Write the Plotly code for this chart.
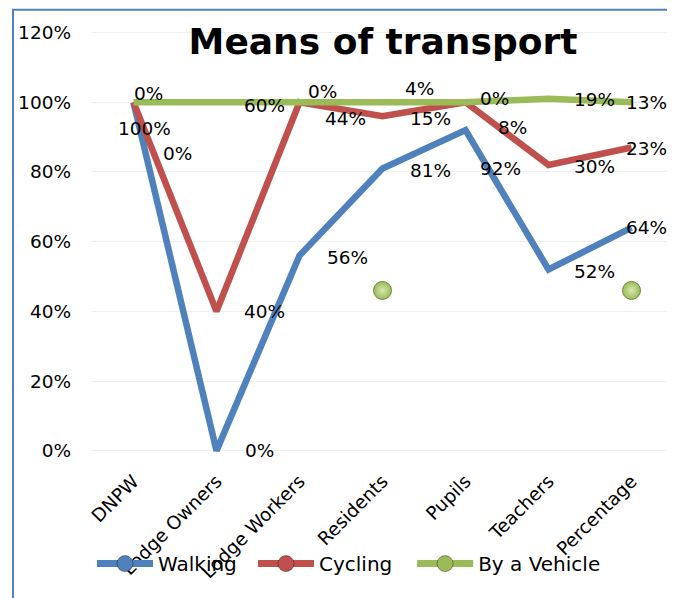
import numpy as np
import plotly.graph_objects as go

categories = ["DNPW", "Lodge Owners", "Lodge Workers", "Residents", "Pupils", "Teachers", "Percentage"]
walking = [100, 0, 56, 81, 92, 52, 64]
cycling = [0, 40, 44, 15, 8, 30, 23]
vehicle = [0, 60, 0, 4, 0, 19, 13]
# stray vehicle markers visible in the picture
vehicle_markers = [None, None, None, 46, None, None, 46]
y_ticks = [0, 20, 40, 60, 80, 100, 120]

cum_walk = np.array(walking, dtype=float)
cum_cyc = cum_walk + np.array(cycling, dtype=float)
cum_veh = cum_cyc + np.array(vehicle, dtype=float)

BLUE = "#4F81BD"
RED = "#C0504D"
GREEN = "#9BBB59"
FONT = "DejaVu Sans"
FS = 18.5

fig = go.Figure()
series = [("Walking", cum_walk, BLUE), ("Cycling", cum_cyc, RED), ("By a Vehicle", cum_veh, GREEN)]
for name, ys, col in series:
    fig.add_trace(go.Scatter(x=categories, y=ys, mode="lines", name=name,
                             line=dict(color=col, width=6.5), showlegend=False))

fig.add_trace(go.Scatter(x=categories, y=vehicle_markers, mode="markers", showlegend=False,
                         marker=dict(color=GREEN, size=18, line=dict(color="#6E8A3A", width=1),
                                     gradient=dict(type="radial", color="#D8E8B0"))))

# legend entries
for i, (name, ys, col) in enumerate(series):
    fig.add_trace(go.Scatter(x=[None], y=[None], mode="lines+markers", name=name,
                             legend="legend2" if i == 2 else "legend",
                             line=dict(color=col, width=7),
                             marker=dict(color=col, size=16, line=dict(color="rgba(0,0,0,0.35)", width=1))))

# label offsets (xshift, yshift) per point
walk_off = [(-18, -26), (26, 0), (25, -2), (25, -2), (12, -38), (23, -2), (-8, 0)]
cyc_off = [(27, -51), (25, 0), (23, -16), (25, -2), (30, -25), (23, -2), (-8, -1)]
veh_off = [(-2, 9), (25, -3), (6, 11), (20, 14), (12, 4), (23, -1), (-8, 0)]

annotations = []
for vals, ys, offs in [(walking, cum_walk, walk_off), (cycling, cum_cyc, cyc_off), (vehicle, cum_veh, veh_off)]:
    for c, v, yv, (dx, dy) in zip(categories, vals, ys, offs):
        annotations.append(dict(x=c, y=yv, text=f"{v}%", showarrow=False, xanchor="left",
                                yanchor="middle", xshift=dx, yshift=dy,
                                font=dict(family=FONT, size=FS, color="black")))

legend_common = dict(orientation="h", xanchor="left", y=-0.252, yanchor="middle", itemwidth=56,
                     font=dict(family=FONT, size=20, color="black"), bgcolor="rgba(0,0,0,0)")

fig.update_layout(
    width=667, height=590,
    margin=dict(l=84, r=2, t=20.5, b=141.8, autoexpand=False),
    paper_bgcolor="white", plot_bgcolor="white",
    title=dict(text="<b>Means of transport</b>", x=0.5622, xanchor="center", y=0.943, yanchor="middle",
               font=dict(family=FONT, size=36, color="black")),
    xaxis=dict(type="category", tickangle=-45, showgrid=False, showline=False, ticks="",
               tickfont=dict(family=FONT, size=FS, color="black"), range=[-0.5, 6.5],
               ticklabelstandoff=10),
    yaxis=dict(range=[-1.5, 121], tickvals=y_ticks, ticktext=[f"{t}%" for t in y_ticks],
               showgrid=True, gridcolor="#EFEFEF", gridwidth=1, zeroline=False, showline=False,
               tickfont=dict(family=FONT, size=FS, color="black"), ticklen=0, ticks="",
               ticklabelstandoff=20),
    legend=dict(x=0.0, entrywidth=90, entrywidthmode="pixels", **legend_common),
    legend2=dict(x=0.551, **legend_common),
    annotations=annotations,
    shapes=[dict(type="rect", xref="paper", yref="paper", x0=-0.136, x1=0.998, y0=-0.5, y1=1.045,
                 line=dict(color=BLUE, width=2), layer="below")],
)

fig.write_html("out.html")
